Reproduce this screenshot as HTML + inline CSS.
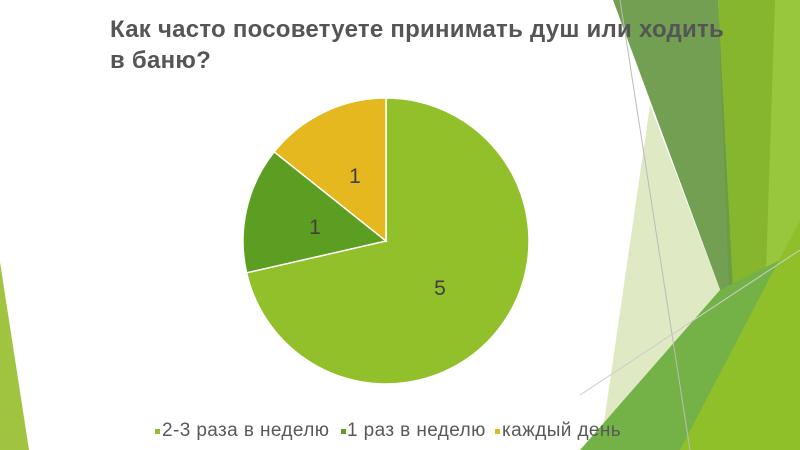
<!DOCTYPE html>
<html><head><meta charset="utf-8"><style>
body{margin:0;width:800px;height:450px;overflow:hidden;background:#fff;position:relative;font-family:"Liberation Sans","DejaVu Sans",sans-serif}
svg{position:absolute;left:0;top:0}
.t{position:absolute;left:110px;top:14px;font-size:24px;line-height:31px;color:#555;font-weight:bold;letter-spacing:0.25px;white-space:nowrap}
.lg{position:absolute;top:420px;font-size:19px;letter-spacing:0.4px;color:#595959;white-space:nowrap}
</style></head><body>
<svg width="800" height="450">
<polygon points="0,262 0,450 29,450" fill="#a0c440"/>
<polygon points="650,105 722,295 600,450" fill="#dfeac5"/>
<polygon points="718,0 800,0 800,450 735,450" fill="#86b52e"/>
<polygon points="775,0 800,0 800,450 760,450" fill="#98c63c"/>
<polygon points="613,0 718,0 735,330" fill="#6a9a48" opacity="0.95"/>
<polygon points="580,450 720,290 800,250 800,450" fill="#74b248"/>
<polygon points="680,450 800,220 800,450" fill="#8fc02a"/>
<line x1="620" y1="0" x2="690" y2="450" stroke="#bbb" stroke-width="1"/>
<line x1="580" y1="395" x2="800" y2="250" stroke="#ccc" stroke-width="1"/>
<path d="M386,241 L386,98 A143,143 0 1 1 246.6,272.8 Z" fill="#92c02a" stroke="#fff" stroke-width="1.5"/>
<path d="M386,241 L246.6,272.8 A143,143 0 0 1 274.2,151.8 Z" fill="#5b9e22" stroke="#fff" stroke-width="1.5"/>
<path d="M386,241 L274.2,151.8 A143,143 0 0 1 386,98 Z" fill="#e5b81f" stroke="#fff" stroke-width="1.5"/>
<text x="440" y="295" font-size="21" fill="#404040" text-anchor="middle" font-family="Liberation Sans,sans-serif">5</text>
<text x="315" y="234" font-size="21" fill="#404040" text-anchor="middle" font-family="Liberation Sans,sans-serif">1</text>
<text x="355" y="183" font-size="21" fill="#404040" text-anchor="middle" font-family="Liberation Sans,sans-serif">1</text>
<rect x="155" y="429" width="5" height="5" fill="#92c02a"/>
<rect x="341" y="429" width="5" height="5" fill="#5b9e22"/>
<rect x="495" y="429" width="5" height="5" fill="#e5b81f"/>
</svg>
<div class="t">Как часто посоветуете принимать душ или ходить<br>в баню?</div>
<div class="lg" style="left:162px">2-3 раза в неделю</div>
<div class="lg" style="left:347px">1 раз в неделю</div>
<div class="lg" style="left:502px">каждый день</div>
</body></html>
